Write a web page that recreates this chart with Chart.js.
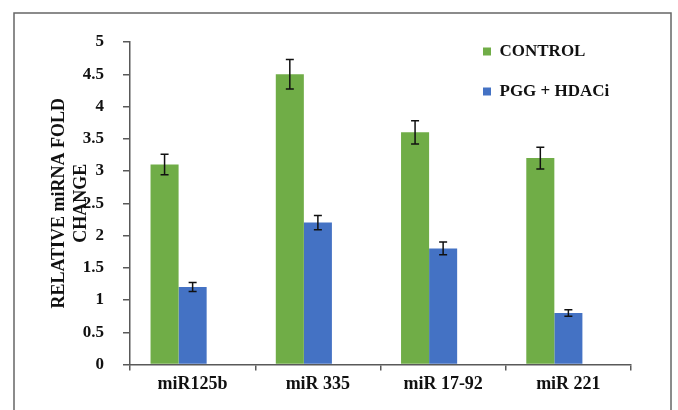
<!DOCTYPE html>
<html>
<head>
<meta charset="utf-8">
<script src="https://cdn.jsdelivr.net/npm/chart.js@4"></script>
<style>
  html, body { margin: 0; padding: 0; background: #fff; }
  #wrap { width: 678px; height: 410px; }
</style>
</head>
<body>
<div id="wrap"><canvas id="myChart"></canvas></div>
<script>
// miRNA fold change
var categories = ['miR125b', 'miR 335', 'miR 17-92', 'miR 221'];
var controlVals = [3.1, 4.5, 3.6, 3.2];
var controlErr = [0.16, 0.23, 0.18, 0.17];
var pggVals = [1.2, 2.2, 1.8, 0.8];
var pggErr = [0.07, 0.11, 0.1, 0.05];

Chart.defaults.font.family = "'Liberation Serif', 'Times New Roman', serif";
Chart.defaults.font.weight = 'bold';
Chart.defaults.color = '#111';

var errs = [controlErr, pggErr];

// error bars + frame
var extras = {
  id: 'extras',
  afterLayout: function (chart) {
    var lg = chart.legend;
    lg.left = 460;
    lg.top = 20;
    lg.bottom = lg.top + 120;
  },
  afterDatasetsDraw: function (chart) {
    var ctx = chart.ctx;
    var y = chart.scales.y;
    ctx.save();
    ctx.strokeStyle = '#111';
    ctx.lineWidth = 1.5;
    errs.forEach(function (err, d) {
      var meta = chart.getDatasetMeta(d);
      var vals = chart.data.datasets[d].data;
      meta.data.forEach(function (bar, i) {
        var top = y.getPixelForValue(vals[i] + err[i]);
        var bot = y.getPixelForValue(vals[i] - err[i]);
        ctx.beginPath();
        ctx.moveTo(bar.x, top); ctx.lineTo(bar.x, bot);
        ctx.moveTo(bar.x - 4, top); ctx.lineTo(bar.x + 4, top);
        ctx.moveTo(bar.x - 4, bot); ctx.lineTo(bar.x + 4, bot);
        ctx.stroke();
      });
    });
    ctx.restore();
  },
  afterDraw: function (chart) {
    var ctx = chart.ctx;
    ctx.save();
    ctx.strokeStyle = '#666';
    ctx.lineWidth = 1.5;
    ctx.strokeRect(14, 13, 657, 420);
    ctx.restore();
  }
};

var ctx = document.getElementById('myChart').getContext('2d');
var myChart = new Chart(ctx, {
  type: 'bar',
  data: {
    labels: categories,
    datasets: [
      { label: 'CONTROL', data: controlVals, backgroundColor: '#70AD47' },
      { label: 'PGG + HDACi', data: pggVals, backgroundColor: '#4472C4' },
      { label: '', data: [], backgroundColor: 'rgba(0,0,0,0)' }
    ]
  },
  options: {
    responsive: true,
    maintainAspectRatio: false,
    animation: false,
    layout: { padding: { left: 49, right: 47, top: 42, bottom: 0 } },
    datasets: { bar: { categoryPercentage: 0.672, barPercentage: 1 } },
    plugins: {
      tooltip: { enabled: false },
      legend: {
        position: 'chartArea',
        align: 'start',
        labels: {
          boxWidth: 8,
          boxHeight: 8,
          padding: 23,
          color: '#111',
          font: { size: 17, weight: 'bold' },
          filter: function (item) { return item.text !== ''; }
        }
      }
    },
    scales: {
      x: {
        afterFit: function (s) { s.height = 45.5; },
        grid: { drawOnChartArea: false, drawTicks: true, tickLength: 6, color: '#595959', lineWidth: 1.5 },
        border: { color: '#595959', width: 1.5 },
        ticks: { padding: 3, font: { size: 18, weight: 'bold' }, color: '#111' }
      },
      y: {
        min: 0,
        max: 5,
        afterFit: function (s) { s.width = 81; },
        ticks: {
          stepSize: 0.5,
          padding: 19,
          font: { size: 17, weight: 'bold' },
          color: '#111',
          callback: function (v) { return String(Math.round(v * 10) / 10); }
        },
        grid: { drawOnChartArea: false, drawTicks: true, tickLength: 7, color: '#595959', lineWidth: 1.5 },
        border: { color: '#595959', width: 1.5 },
        title: {
          display: true,
          text: ['RELATIVE miRNA FOLD', 'CHANGE'],
          font: { size: 18, weight: 'bold' },
          color: '#111',
          lineHeight: 0.97,
          padding: { top: 0, bottom: 0 }
        }
      }
    }
  },
  plugins: [extras]
});
</script>
</body>
</html>
